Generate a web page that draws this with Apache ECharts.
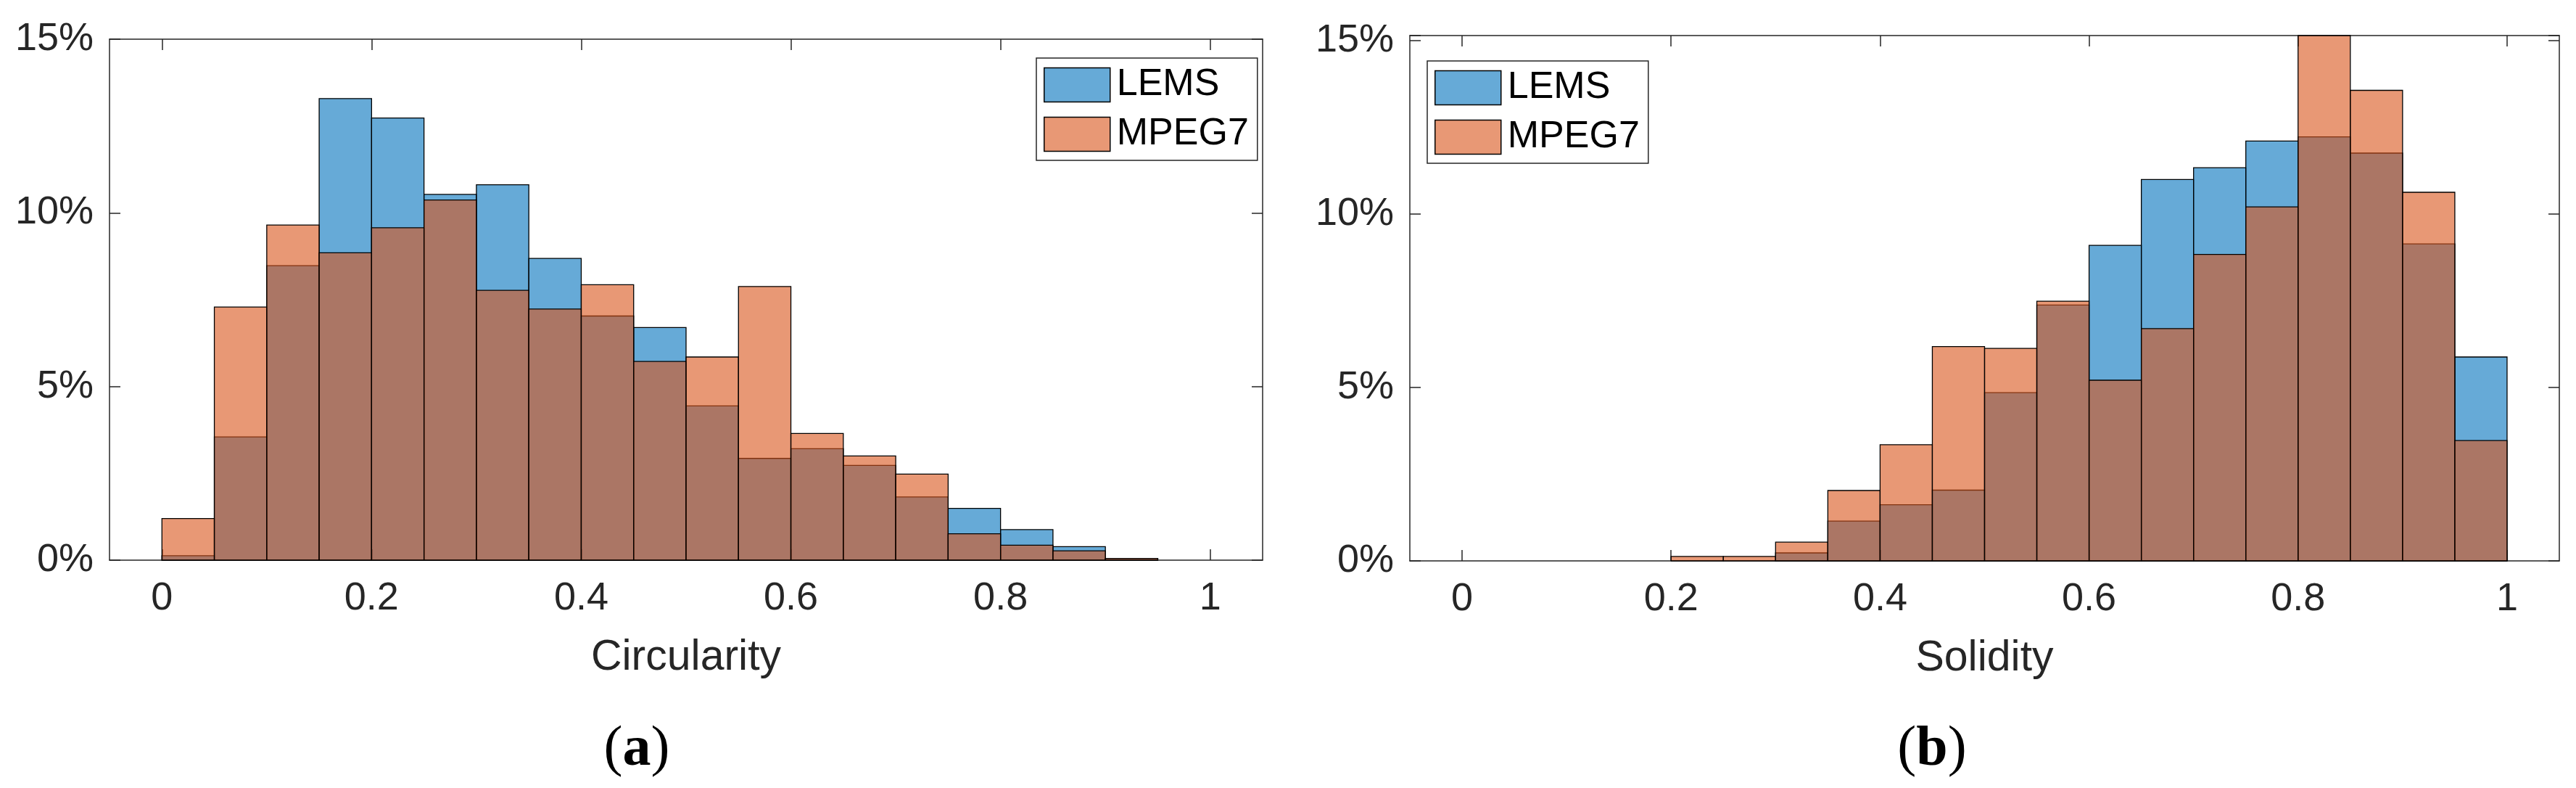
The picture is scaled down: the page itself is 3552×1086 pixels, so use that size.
<!DOCTYPE html>
<html>
<head>
<meta charset="utf-8">
<title>Circularity and Solidity histograms</title>
<script src="https://cdn.jsdelivr.net/npm/echarts@6.0.0/dist/echarts.min.js"></script>
<style>
  html, body { margin: 0; padding: 0; background: #fff; }
  #chart { width: 3552px; height: 1086px; }
</style>
</head>
<body>
<div id="chart"></div>
<script>
// histogram bins (left edge of each bin), width 0.05
const binStart = [0, 0.05, 0.1, 0.15, 0.2, 0.25, 0.3, 0.35, 0.4, 0.45,
                  0.5, 0.55, 0.6, 0.65, 0.7, 0.75, 0.8, 0.85, 0.9, 0.95];
const binWidth = 0.05;
const xTicks = [0, 0.2, 0.4, 0.6, 0.8, 1];

// (a) Circularity, percent of shapes per bin
const circLEMS  = [0.13, 3.55, 8.48, 13.29, 12.73, 10.53, 10.81, 8.69, 7.03, 6.70,
                   4.44, 2.93, 3.21, 2.73, 1.82, 1.49, 0.88, 0.39, 0.05, 0];
const circMPEG7 = [1.20, 7.29, 9.65, 8.85, 9.57, 10.37, 7.77, 7.23, 7.93, 5.72,
                   5.85, 7.88, 3.65, 3.00, 2.48, 0.76, 0.43, 0.27, 0.05, 0];

// (b) Solidity, percent of shapes per bin
const solLEMS  = [0, 0, 0, 0, 0, 0, 0.23, 1.15, 1.62, 2.04,
                  4.85, 7.38, 9.10, 11.00, 11.34, 12.11, 12.23, 11.76, 9.14, 5.88];
const solMPEG7 = [0, 0, 0, 0, 0.13, 0.13, 0.54, 2.03, 3.35, 6.18,
                  6.13, 7.49, 5.21, 6.70, 8.84, 10.21, 15.15, 13.57, 10.63, 3.47];

const FONT = "'Liberation Sans', Arial, Helvetica, sans-serif";
const SERIF = "'Liberation Serif', 'Times New Roman', serif";
const AXIS_COLOR = '#262626';
const LEMS_FILL = 'rgba(0,114,189,0.6)';
const MPEG_FILL = 'rgba(217,83,25,0.6)';

const chart = echarts.init(document.getElementById('chart'), null, { renderer: 'canvas' });

function histSeries(name, gridIdx, values, fill) {
  return {
    name: name,
    type: 'custom',
    xAxisIndex: gridIdx * 2,
    yAxisIndex: gridIdx * 2,
    encode: { x: [0, 1], y: 2 },
    data: binStart.map((s, i) => [s, s + binWidth, values[i]]),
    renderItem: (params, api) => {
      const v = api.value(2);
      if (!v) return null;
      const p0 = api.coord([api.value(0), v]);
      const p1 = api.coord([api.value(1), 0]);
      return {
        type: 'rect',
        shape: { x: p0[0], y: p0[1], width: p1[0] - p0[0], height: p1[1] - p0[1] },
        style: { fill: fill, stroke: '#000', lineWidth: 1.3 }
      };
    },
    silent: true,
    animation: false
  };
}

function xAxes(gridIdx, title) {
  return [
    {
      type: 'value', gridIndex: gridIdx, position: 'bottom', min: -0.05, max: 1.05,
      name: title, nameLocation: 'middle', nameGap: 105,
      nameTextStyle: { fontSize: 59, color: AXIS_COLOR, fontFamily: FONT },
      axisLine: { show: true, onZero: false, lineStyle: { color: AXIS_COLOR, width: 1.5 } },
      axisTick: { show: true, inside: true, length: 15, customValues: xTicks, lineStyle: { color: AXIS_COLOR, width: 1.5 } },
      axisLabel: { show: true, customValues: xTicks, margin: 26, fontSize: 54, color: AXIS_COLOR, fontFamily: FONT },
      splitLine: { show: false }
    },
    {
      type: 'value', gridIndex: gridIdx, position: 'top', min: -0.05, max: 1.05,
      axisLine: { show: true, onZero: false, lineStyle: { color: AXIS_COLOR, width: 1.5 } },
      axisTick: { show: true, inside: true, length: 15, customValues: xTicks, lineStyle: { color: AXIS_COLOR, width: 1.5 } },
      axisLabel: { show: false },
      splitLine: { show: false }
    }
  ];
}

function yAxes(gridIdx, maxVal) {
  const pct = v => (Math.abs(v % 5) < 1e-6 ? v + '%' : '');
  return [
    {
      type: 'value', gridIndex: gridIdx, position: 'left', min: 0, max: maxVal, interval: 5,
      axisLine: { show: true, onZero: false, lineStyle: { color: AXIS_COLOR, width: 1.5 } },
      axisTick: { show: true, inside: true, length: 15, lineStyle: { color: AXIS_COLOR, width: 1.5 } },
      axisLabel: { formatter: pct, margin: 22, fontSize: 54, color: AXIS_COLOR, fontFamily: FONT },
      splitLine: { show: false }
    },
    {
      type: 'value', gridIndex: gridIdx, position: 'right', min: 0, max: maxVal, interval: 5,
      axisLine: { show: true, onZero: false, lineStyle: { color: AXIS_COLOR, width: 1.5 } },
      axisTick: { show: true, inside: true, length: 15, lineStyle: { color: AXIS_COLOR, width: 1.5 } },
      axisLabel: { show: false },
      splitLine: { show: false }
    }
  ];
}

function legendAt(left, top) {
  return {
    left: left, top: top, orient: 'vertical',
    selectedMode: false,
    itemWidth: 91, itemHeight: 47, itemGap: 16,
    padding: [11, 12, 10, 10],
    borderColor: AXIS_COLOR, borderWidth: 1.5, backgroundColor: '#fff',
    textStyle: { fontSize: 52, color: '#000', fontFamily: FONT, padding: [0, 0, 0, 4] },
    data: [
      { name: 'LEMS', icon: 'rect', itemStyle: { color: LEMS_FILL, borderColor: '#000', borderWidth: 1.5 } },
      { name: 'MPEG7', icon: 'rect', itemStyle: { color: MPEG_FILL, borderColor: '#000', borderWidth: 1.5 } }
    ]
  };
}

function caption(letter, x) {
  return {
    type: 'text', x: x, y: 1034,
    style: {
      text: '{p|(}{b|' + letter + '}{p|)}',
      align: 'center', verticalAlign: 'middle',
      rich: {
        p: { fontSize: 78, fontFamily: SERIF, fill: '#000' },
        b: { fontSize: 78, fontWeight: 'bold', fontFamily: SERIF, fill: '#000' }
      }
    }
  };
}

chart.setOption({
  backgroundColor: '#fff',
  animation: false,
  grid: [
    { left: 151, top: 54, width: 1590, height: 718 },
    { left: 1944, top: 49, width: 1585, height: 724 }
  ],
  xAxis: [...xAxes(0, 'Circularity'), ...xAxes(1, 'Solidity')],
  yAxis: [...yAxes(0, 15), ...yAxes(1, 15.15)],
  legend: [legendAt(1429, 80), legendAt(1968, 84)],
  series: [
    histSeries('LEMS', 0, circLEMS, LEMS_FILL),
    histSeries('MPEG7', 0, circMPEG7, MPEG_FILL),
    histSeries('LEMS', 1, solLEMS, LEMS_FILL),
    histSeries('MPEG7', 1, solMPEG7, MPEG_FILL)
  ],
  graphic: [caption('a', 878), caption('b', 2664)]
});

window.addEventListener('resize', () => chart.resize());
</script>
</body>
</html>
